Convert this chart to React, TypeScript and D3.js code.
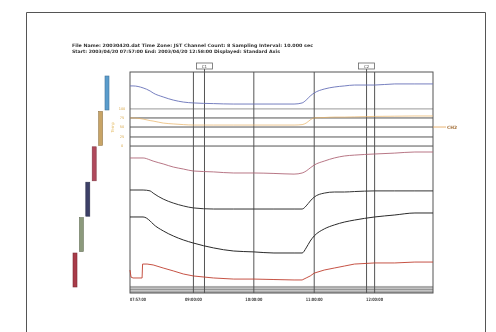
import React from 'react';
import * as d3 from 'd3';

// time in minutes from 08:00, values in % of full scale
const times = [-3, 0, 10, 17, 20, 30, 40, 50, 60, 80, 100, 120, 140, 160, 168, 172, 176, 180, 190, 200, 210, 220, 240, 260, 280, 298];
const blueValues = [93.7, 93.7, 92.8, 91.4, 90.5, 88.7, 87.3, 86.4, 86.0, 85.7, 85.5, 85.5, 85.5, 85.5, 86.0, 87.3, 89.1, 90.5, 92.3, 93.2, 93.7, 94.1, 94.1, 94.6, 94.6, 94.6];
const mauveValues = [61.1, 61.1, 61.1, 60.2, 59.7, 58.4, 57.0, 56.1, 55.2, 54.8, 54.3, 54.3, 54.1, 53.8, 54.3, 55.2, 56.6, 57.9, 59.7, 61.1, 62.0, 62.4, 62.9, 63.3, 63.8, 63.8];
const blackValues = [46.6, 46.6, 46.6, 46.2, 45.2, 42.5, 40.7, 39.4, 38.5, 38.0, 38.0, 38.0, 38.0, 38.0, 38.0, 39.4, 41.6, 43.4, 45.2, 45.7, 45.7, 45.9, 46.2, 46.2, 46.2, 46.2];
const darkValues = [34.4, 34.4, 34.4, 32.6, 31.2, 28.1, 25.8, 24.0, 22.6, 20.4, 19.0, 18.6, 18.1, 18.1, 18.1, 20.4, 23.5, 25.8, 29.0, 30.8, 32.1, 33.0, 34.4, 35.3, 36.2, 36.2];
const orangeValues = [79.2, 79.2, 78.7, 78.0, 77.8, 76.9, 76.5, 76.2, 76.0, 76.0, 76.0, 76.0, 76.0, 76.0, 76.2, 76.9, 78.3, 79.2, 79.4, 79.6, 79.6, 79.7, 79.9, 80.0, 80.1, 80.1];

const redTimes = [-3, -2, 0, 9, 9.5, 14, 20, 30, 40, 50, 60, 80, 100, 120, 140, 160, 168, 172, 176, 180, 190, 200, 210, 220, 240, 260, 280, 298];
const redValues = [10.4, 7.2, 6.8, 6.8, 13.1, 13.1, 12.7, 11.3, 10.0, 8.6, 7.7, 6.8, 6.3, 6.3, 6.1, 5.9, 5.9, 6.8, 7.7, 9.0, 10.4, 11.3, 12.2, 13.1, 13.6, 13.6, 14.0, 14.0];

const levelValues = [83.3, 79.2, 75.1, 70.6, 66.5];
const bottomLevels = [2.7, 1.6, 0.45];

const tickTimes = [60, 120, 180, 240];
const tickLabels = ['09:00:00', '10:00:00', '11:00:00', '12:00:00'];
const startLabel = '07:57:00';
const cursorTimes = [71, 232];
const cursorNames = ['C1', 'C2'];

const legendColors = ['#5a9ccc', '#c8a466', '#b04a5c', '#3c4068', '#8c9a7c', '#a83a48'];
const orangeTicks = ['100', '75', '50', '25', '0'];

const title1 = 'File Name: 20030420.dat   Time Zone: JST   Channel Count: 8   Sampling Interval: 10.000 sec';
const title2 = 'Start: 2003/04/20 07:57:00   End: 2003/04/20 12:58:00   Displayed: Standard Axis';

export default function App() {
  const x = d3.scaleLinear().domain([-3, 298]).range([130, 433]);
  const y = d3.scaleLinear().domain([0, 100]).range([293, 72]);

  const line = d3.line<[number, number]>()
    .x(d => x(d[0]))
    .y(d => y(d[1]))
    .curve(d3.curveMonotoneX);

  const series = [
    { vals: orangeValues, color: '#e8b060', w: 0.7 },
    { vals: blueValues, color: '#6670b8', w: 0.9 },
    { vals: mauveValues, color: '#b06878', w: 0.9 },
    { vals: blackValues, color: '#333', w: 1 },
    { vals: darkValues, color: '#2a2a2a', w: 1 },
  ];

  const legY = d3.scaleBand<number>().domain(d3.range(6)).range([76, 287]).paddingInner(0.04);
  const legX = d3.scaleLinear().domain([0, 5]).range([105, 73]);

  return (
    <svg width={496} height={332} style={{ position: 'absolute', left: 0, top: 0, background: '#fff' }}
      fontFamily="'DejaVu Sans', sans-serif">
      <defs>
        <filter id="soft"><feGaussianBlur stdDeviation="0.45" /></filter>
      </defs>
      <rect x={0} y={0} width={496} height={332} fill="#fff" />
      <g filter="url(#soft)">
        <path d="M26.5,340 V12.5 H485.5 V340" fill="none" stroke="#555" strokeWidth={1} />

        <text x={72} y={47} fontSize={4.5} fontWeight="bold" fill="#333" textLength={241} lengthAdjust="spacingAndGlyphs">{title1}</text>
        <text x={72} y={53} fontSize={4.5} fontWeight="bold" fill="#333" textLength={208} lengthAdjust="spacingAndGlyphs">{title2}</text>

        {/* legend bars */}
        {legendColors.map((c, i) => (
          <rect key={i} x={legX(i)} y={legY(i)} width={4} height={legY.bandwidth()} fill={c} stroke={d3.color(c)!.darker(0.8).toString()} strokeWidth={0.6} />
        ))}

        {/* orange axis labels */}
        {levelValues.map((v, i) => (
          <text key={i} x={122} y={y(v) + 1.2} fontSize={3.5} fill="#d9a84a" textAnchor="middle">{orangeTicks[i]}</text>
        ))}
        <text transform={`translate(114,${y(75)}) rotate(-90)`} fontSize={4} fill="#e6c070" textAnchor="middle">Temp</text>

        {/* bottom band */}
        <rect x={x(-3)} y={y(3.2)} width={x(298) - x(-3)} height={y(0) - y(3.2)} fill="#c4c4c4" />
        {bottomLevels.map((v, i) => (
          <line key={i} x1={x(-3)} x2={x(298)} y1={y(v)} y2={y(v)} stroke="#888" strokeWidth={0.8} />
        ))}

        {/* flat channels */}
        {levelValues.map((v, i) => (
          <line key={i} x1={x(-3)} x2={x(298)} y1={y(v)} y2={y(v)} stroke={i === 0 ? '#999' : '#555'} strokeWidth={1} />
        ))}

        {/* grid */}
        {tickTimes.map(t => (
          <line key={t} x1={x(t)} x2={x(t)} y1={y(100)} y2={y(0)} stroke="#555" strokeWidth={1} />
        ))}
        {cursorTimes.map((t, i) => (
          <g key={t}>
            <line x1={x(t)} x2={x(t)} y1={y(100) - 3} y2={y(0)} stroke="#555" strokeWidth={1} />
            <rect x={x(t) - 8} y={63} width={16} height={6} fill="#fff" stroke="#666" strokeWidth={0.8} />
            <text x={x(t)} y={67.5} fontSize={4} fill="#555" textAnchor="middle">{cursorNames[i]}</text>
          </g>
        ))}
        <rect x={x(-3)} y={y(100)} width={x(298) - x(-3)} height={y(0) - y(100)} fill="none" stroke="#555" strokeWidth={1} />

        {/* curves */}
        {series.map((s, i) => (
          <path key={i} d={line(times.map((t, j) => [t, s.vals[j]]))!} fill="none" stroke={s.color} strokeWidth={s.w} />
        ))}
        <path d={d3.line<[number, number]>().x(d => x(d[0])).y(d => y(d[1]))(redTimes.map((t, j) => [t, redValues[j]]))!}
          fill="none" stroke="#c04030" strokeWidth={0.9} />

        {/* right label */}
        <line x1={x(298)} x2={446} y1={y(75.1)} y2={y(75.1)} stroke="#e0a050" strokeWidth={0.8} />
        <text x={447} y={y(75.1) + 1.5} fontSize={4.5} fontWeight="bold" fill="#a06a30">CH2</text>

        {/* x tick labels */}
        <text x={x(-3)} y={301} fontSize={4.5} fontWeight="bold" fill="#444" textLength={16} lengthAdjust="spacingAndGlyphs">{startLabel}</text>
        {tickTimes.map((t, i) => (
          <text key={t} x={x(t)} y={301} fontSize={4.5} fontWeight="bold" fill="#444" textAnchor="middle" textLength={17} lengthAdjust="spacingAndGlyphs">{tickLabels[i]}</text>
        ))}
      </g>
    </svg>
  );
}
